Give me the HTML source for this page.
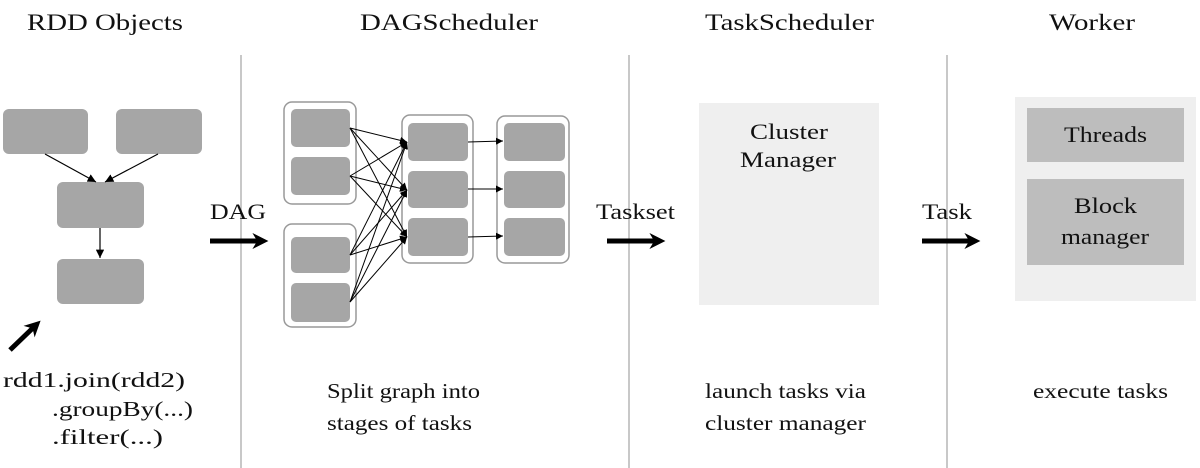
<!DOCTYPE html>
<html><head><style>
body{margin:0;background:#fff;}
svg{display:block;}
text{font-family:"Liberation Serif",serif;fill:#111;}
</style></head><body>
<svg width="1200" height="468" viewBox="0 0 1200 468" xmlns="http://www.w3.org/2000/svg">
<defs>
<marker id="a" viewBox="0 0 10 10" refX="10" refY="5" markerWidth="7" markerHeight="7" orient="auto"><path d="M0,0L10,5L0,10z" fill="#000"/></marker>
<marker id="b" viewBox="0 0 10 10" refX="6" refY="5" markerWidth="3.2" markerHeight="3.2" orient="auto"><path d="M0,0L10,5L0,10L3,5z" fill="#000"/></marker>
</defs>
<g stroke="#c8c8c8" stroke-width="2">
<line x1="241" y1="55" x2="241" y2="468"/><line x1="629" y1="55" x2="629" y2="468"/><line x1="947" y1="55" x2="947" y2="468"/>
</g>
<g font-size="23">
<text x="27" y="30" textLength="156" lengthAdjust="spacingAndGlyphs">RDD Objects</text>
<text x="360" y="30" textLength="178" lengthAdjust="spacingAndGlyphs">DAGScheduler</text>
<text x="705" y="30" textLength="169" lengthAdjust="spacingAndGlyphs">TaskScheduler</text>
<text x="1049" y="30" textLength="86" lengthAdjust="spacingAndGlyphs">Worker</text>
</g>
<g fill="#a6a6a6">
<rect x="3" y="109" width="85" height="45" rx="6"/><rect x="116" y="109" width="86" height="45" rx="6"/>
<rect x="57" y="182" width="87" height="46" rx="6"/><rect x="57" y="259" width="87" height="45" rx="6"/>
</g>
<g stroke="#000" stroke-width="1.2" fill="none">
<line x1="45" y1="154" x2="96" y2="182" marker-end="url(#a)"/>
<line x1="158" y1="154" x2="105" y2="182" marker-end="url(#a)"/>
<line x1="100" y1="228" x2="100" y2="258" marker-end="url(#a)"/>
</g>
<line x1="10" y1="350" x2="36" y2="325" stroke="#000" stroke-width="5" marker-end="url(#b)"/>
<g fill="#fff" stroke="#999" stroke-width="1.5">
<rect x="284" y="102" width="72" height="102" rx="8"/><rect x="284" y="224" width="72" height="103" rx="8"/>
<rect x="402" y="115" width="71" height="148" rx="8"/><rect x="497" y="116" width="72" height="147" rx="8"/>
</g>
<g fill="#a6a6a6">
<rect x="291" y="109" width="59" height="38" rx="5"/><rect x="291" y="157" width="59" height="38" rx="5"/>
<rect x="291" y="237" width="59" height="36" rx="5"/><rect x="291" y="283" width="59" height="39" rx="5"/>
<rect x="408" y="123" width="60" height="38" rx="5"/><rect x="408" y="171" width="60" height="37" rx="5"/><rect x="408" y="218" width="60" height="38" rx="5"/>
<rect x="504" y="123" width="61" height="38" rx="5"/><rect x="504" y="171" width="61" height="37" rx="5"/><rect x="504" y="218" width="61" height="38" rx="5"/>
</g>
<g stroke="#000" stroke-width="1" fill="none">
<line x1="350" y1="128" x2="407" y2="142" marker-end="url(#a)"/><line x1="350" y1="128" x2="407" y2="190" marker-end="url(#a)"/><line x1="350" y1="128" x2="407" y2="237" marker-end="url(#a)"/>
<line x1="350" y1="176" x2="407" y2="142" marker-end="url(#a)"/><line x1="350" y1="176" x2="407" y2="190" marker-end="url(#a)"/><line x1="350" y1="176" x2="407" y2="237" marker-end="url(#a)"/>
<line x1="350" y1="255" x2="407" y2="142" marker-end="url(#a)"/><line x1="350" y1="255" x2="407" y2="190" marker-end="url(#a)"/><line x1="350" y1="255" x2="407" y2="237" marker-end="url(#a)"/>
<line x1="350" y1="302" x2="407" y2="142" marker-end="url(#a)"/><line x1="350" y1="302" x2="407" y2="190" marker-end="url(#a)"/><line x1="350" y1="302" x2="407" y2="237" marker-end="url(#a)"/>
<line x1="468" y1="142" x2="503" y2="141" marker-end="url(#a)"/><line x1="468" y1="189" x2="503" y2="189" marker-end="url(#a)"/><line x1="468" y1="237" x2="503" y2="236" marker-end="url(#a)"/>
</g>
<g font-size="22">
<text x="210" y="219" textLength="56" lengthAdjust="spacingAndGlyphs">DAG</text>
<text x="596" y="219" textLength="79" lengthAdjust="spacingAndGlyphs">Taskset</text>
<text x="922" y="219" textLength="50" lengthAdjust="spacingAndGlyphs">Task</text>
</g>
<g stroke="#000" stroke-width="5">
<line x1="210" y1="241" x2="262" y2="241" marker-end="url(#b)"/>
<line x1="607" y1="241" x2="659" y2="241" marker-end="url(#b)"/>
<line x1="922" y1="241" x2="974" y2="241" marker-end="url(#b)"/>
</g>
<rect x="699" y="103" width="180" height="202" fill="#efefef"/>
<g font-size="22">
<text x="750" y="139" textLength="78" lengthAdjust="spacingAndGlyphs">Cluster</text>
<text x="740" y="167" textLength="96" lengthAdjust="spacingAndGlyphs">Manager</text>
</g>
<rect x="1015" y="97" width="181" height="204" fill="#efefef"/>
<rect x="1027" y="108" width="157" height="54" fill="#bdbdbd"/>
<rect x="1027" y="179" width="157" height="86" fill="#bdbdbd"/>
<g font-size="22">
<text x="1064" y="142" textLength="83" lengthAdjust="spacingAndGlyphs">Threads</text>
<text x="1074" y="213" textLength="63" lengthAdjust="spacingAndGlyphs">Block</text>
<text x="1061" y="244" textLength="88" lengthAdjust="spacingAndGlyphs">manager</text>
</g>
<g font-size="21">
<text x="3" y="387" textLength="182" lengthAdjust="spacingAndGlyphs">rdd1.join(rdd2)</text>
<text x="52" y="416" textLength="141" lengthAdjust="spacingAndGlyphs">.groupBy(...)</text>
<text x="52" y="444" textLength="111" lengthAdjust="spacingAndGlyphs">.filter(...)</text>
<text x="327" y="398" textLength="153" lengthAdjust="spacingAndGlyphs">Split graph into</text>
<text x="327" y="430" textLength="145" lengthAdjust="spacingAndGlyphs">stages of tasks</text>
<text x="705" y="398" textLength="161" lengthAdjust="spacingAndGlyphs">launch tasks via</text>
<text x="705" y="430" textLength="161" lengthAdjust="spacingAndGlyphs">cluster manager</text>
<text x="1033" y="398" textLength="135" lengthAdjust="spacingAndGlyphs">execute tasks</text>
</g>
</svg>
</body></html>
